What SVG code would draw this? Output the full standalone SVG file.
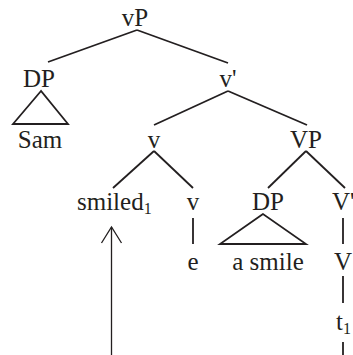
<svg xmlns="http://www.w3.org/2000/svg" width="353" height="355" viewBox="0 0 353 355">
<style>
text{font-family:"Liberation Serif","Times New Roman",serif;font-size:25px;fill:#231f20}
.m{text-anchor:middle}
.sub{font-size:16px}
.e line,.e polyline,.e polygon{stroke:#231f20;stroke-width:1.8;fill:none;stroke-linecap:butt}
</style>
<rect width="353" height="355" fill="#fff"/>
<g id="edges" class="e">
<line x1="137" y1="30" x2="48" y2="62"/>
<line x1="137" y1="30" x2="228" y2="63"/>
<polygon points="41,91 13,124 68,124"/>
<line x1="228" y1="91" x2="154" y2="125"/>
<line x1="228" y1="91" x2="307" y2="125"/>
<line x1="154" y1="151" x2="113" y2="188"/>
<line x1="154" y1="151" x2="193" y2="188"/>
<line x1="306" y1="151" x2="268" y2="188"/>
<line x1="306" y1="151" x2="345" y2="188"/>
<line x1="193" y1="218" x2="193" y2="244"/>
<polygon points="263,214 220,244 306,244"/>
<line x1="343" y1="218" x2="343" y2="244"/>
<line x1="343" y1="276" x2="343" y2="303"/>
<line x1="343" y1="342" x2="343" y2="356"/>
<line x1="111.5" y1="356" x2="111.5" y2="227" style="stroke-width:1.3"/>
<polyline points="101.5,243 111.5,227 121.5,243" style="stroke-width:1.3"/>
</g>
<g id="vP"><text class="m" x="135" y="26">vP</text></g>
<g id="DP1"><text class="m" x="39" y="87">DP</text></g>
<g id="Sam"><text class="m" x="40" y="148">Sam</text></g>
<g id="vbar"><text class="m" x="228" y="87">v'</text></g>
<g id="v1"><text class="m" x="154" y="148">v</text></g>
<g id="VP"><text class="m" x="306" y="148">VP</text></g>
<g id="smiled"><text x="77" y="210">smiled<tspan class="sub" dy="4">1</tspan></text></g>
<g id="v2"><text class="m" x="193" y="210">v</text></g>
<g id="e"><text class="m" x="193" y="270">e</text></g>
<g id="DP2"><text class="m" x="268" y="210">DP</text></g>
<g id="asmile"><text class="m" x="268" y="270">a smile</text></g>
<g id="Vbar"><text x="332" y="210">V'</text></g>
<g id="V"><text class="m" x="343" y="270">V</text></g>
<g id="t1"><text x="336" y="330">t<tspan class="sub" dy="4">1</tspan></text></g>
</svg>
